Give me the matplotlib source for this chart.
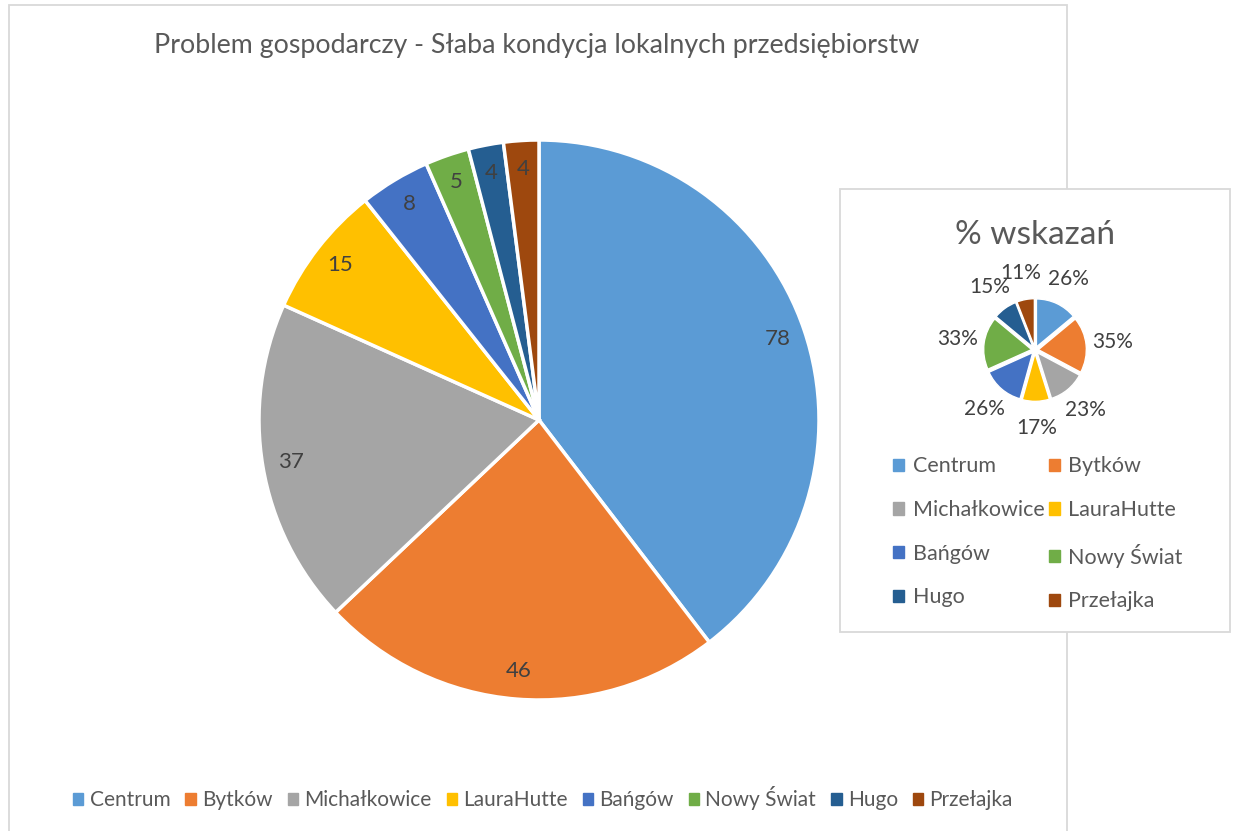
import matplotlib
matplotlib.use('Agg')
import matplotlib.pyplot as plt
from matplotlib.patches import Patch, Rectangle

plt.rcParams['font.family'] = ['Lato', 'DejaVu Sans']

districts = ['Centrum', 'Bytków', 'Michałkowice', 'LauraHutte',
             'Bańgów', 'Nowy Świat', 'Hugo', 'Przełajka']
counts = [78, 46, 37, 15, 8, 5, 4, 4]
percent = [26, 35, 23, 17, 26, 33, 15, 11]
colors = ['#5B9BD5', '#ED7D31', '#A5A5A5', '#FFC000',
          '#4472C4', '#70AD47', '#255E91', '#9E480E']
txt = '#595959'

W, H = 1237, 831
dpi = 100
fig = plt.figure(figsize=(W / dpi, H / dpi), dpi=dpi)


def px_axes(cx, cy, half):
    # square axes centred on a pixel position (y measured from top)
    return fig.add_axes([(cx - half) / W, (H - cy - half) / H, 2 * half / W, 2 * half / H])


# frames
fig.add_artist(Rectangle((9 / W, -0.05), (1067 - 9) / W, (H - 5) / H + 0.05,
                         transform=fig.transFigure, fill=False, ec='#D9D9D9', lw=1.3))

fig.text(537 / W, 1 - 45 / H, 'Problem gospodarczy - Słaba kondycja lokalnych przedsiębiorstw',
         ha='center', va='center', fontsize=19.3, color=txt)

# main pie
ax = px_axes(539, 420, 300)
wedges, labels = ax.pie(counts, colors=colors, startangle=90, counterclock=False,
                        labels=[str(v) for v in counts], labeldistance=0.9,
                        wedgeprops=dict(edgecolor='white', linewidth=2.5))
for t in labels:
    t.set_ha('center')
    t.set_va('center')
    t.set_color('#404040')
    t.set_fontsize(16)
ax.set_xlim(-300 / 280, 300 / 280)
ax.set_ylim(-300 / 280, 300 / 280)
ax.axis('off')

fig.legend([Patch(color=c) for c in colors], districts, loc='center',
           bbox_to_anchor=(543 / W, 1 - 798 / H), ncol=8, frameon=False,
           handlelength=0.5, handleheight=0.5, handletextpad=0.3, columnspacing=0.72,
           fontsize=15, labelcolor=txt)

# inset box
fig.add_artist(Rectangle((840 / W, 1 - 632 / H), (1230 - 840) / W, (632 - 189) / H,
                         transform=fig.transFigure, fc='white', ec='#D9D9D9', lw=1.3, zorder=2))
fig.text(1035 / W, 1 - 235 / H, '% wskazań', ha='center', va='center',
         fontsize=24, color=txt, zorder=3)

ax2 = px_axes(1035, 350, 60)
ax2.set_zorder(3)
w2, l2 = ax2.pie(percent, colors=colors, startangle=90, counterclock=False,
                 labels=[f'{p}%' for p in percent], labeldistance=1.56,
                 explode=[0.07] * len(percent),
                 wedgeprops=dict(edgecolor='white', linewidth=1))
for t in l2:
    t.set_ha('center')
    t.set_va('center')
    t.set_color('#404040')
    t.set_fontsize(15)
ax2.set_xlim(-1.25, 1.25)
ax2.set_ylim(-1.25, 1.25)
ax2.axis('off')

# row-wise order for the two-column legend
order = [0, 2, 4, 6, 1, 3, 5, 7]
leg2 = fig.legend([Patch(color=colors[i]) for i in order], [districts[i] for i in order],
                  loc='upper left', bbox_to_anchor=(874 / W, 1 - 437 / H), ncol=2,
                  frameon=False, handlelength=0.5, handleheight=0.5, handletextpad=0.4,
                  columnspacing=0.2, labelspacing=1.1, fontsize=15.5, labelcolor=txt)
leg2.set_zorder(4)

fig.savefig('out.png', dpi=dpi, facecolor='white')
